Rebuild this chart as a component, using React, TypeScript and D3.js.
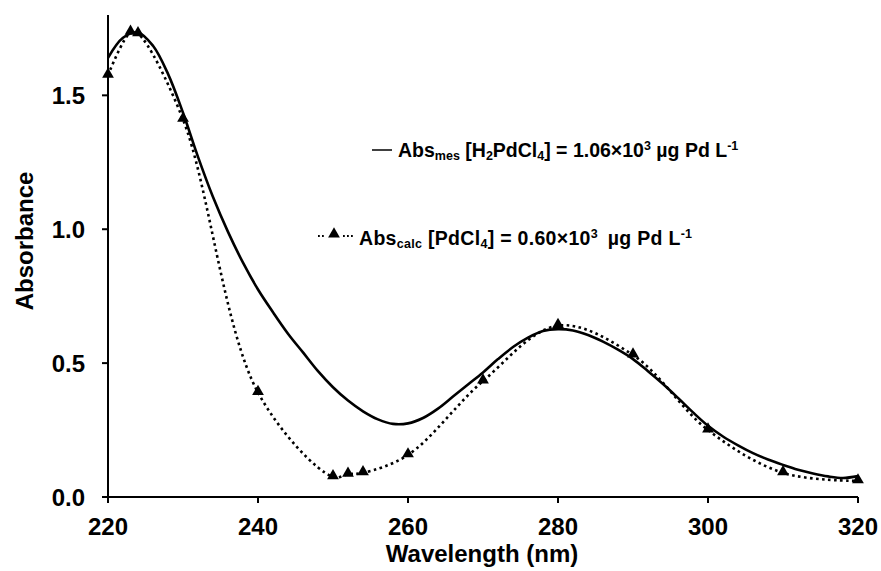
import React from "react";
import * as d3 from "d3";

// measured spectrum (solid line)
const measWl = [220, 222, 224, 226, 228, 230, 232, 234, 236, 238, 240, 242, 244, 246, 248, 250, 252, 254, 256, 258, 260, 262, 264, 266, 268, 270, 272, 274, 276, 278, 280, 282, 284, 286, 288, 290, 292, 294, 296, 298, 300, 302, 304, 306, 308, 310, 312, 314, 316, 318, 320];
const measAbs = [1.64, 1.715, 1.735, 1.685, 1.58, 1.435, 1.27, 1.12, 0.99, 0.875, 0.775, 0.69, 0.61, 0.54, 0.47, 0.41, 0.36, 0.32, 0.29, 0.273, 0.275, 0.295, 0.33, 0.375, 0.42, 0.465, 0.515, 0.56, 0.595, 0.62, 0.627, 0.622, 0.605, 0.58, 0.55, 0.515, 0.47, 0.422, 0.37, 0.316, 0.266, 0.226, 0.193, 0.164, 0.14, 0.12, 0.102, 0.088, 0.077, 0.071, 0.078];

// calculated spectrum (dotted + triangles)
const calcWl = [220, 223, 224, 230, 240, 250, 252, 254, 260, 270, 280, 290, 300, 310, 320];
const calcAbs = [1.575, 1.735, 1.73, 1.41, 0.39, 0.075, 0.085, 0.09, 0.157, 0.433, 0.64, 0.53, 0.25, 0.09, 0.06];

const xTicks = [220, 240, 260, 280, 300, 320];
const yTicks = [0, 0.5, 1.0, 1.5];

const W = 881;
const H = 571;
const FONT = "'Liberation Sans', Arial, sans-serif";

export default function App() {
  const x = d3.scaleLinear().domain([220, 320]).range([108, 858]);
  const y = d3.scaleLinear().domain([0, 1.8]).range([497, 15]);

  const meas = measWl.map((w, i) => [w, measAbs[i]] as [number, number]);
  const calc = calcWl.map((w, i) => [w, calcAbs[i]] as [number, number]);

  const line = d3
    .line<[number, number]>()
    .x((d) => x(d[0]))
    .y((d) => y(d[1]))
    .curve(d3.curveCatmullRom.alpha(0.5));

  const tri = d3.symbol().type(d3.symbolTriangle).size(60)() as string;
  const sub = 12.5;

  return (
    <div style={{ position: "fixed", left: 0, top: 0 }}>
      <svg width={W} height={H} style={{ display: "block", background: "#fff" }} fontFamily={FONT}>
        {/* axes */}
        <line x1={x(220)} x2={x(320)} y1={y(0)} y2={y(0)} stroke="#000" strokeWidth={2} />
        <line x1={x(220)} x2={x(220)} y1={y(0)} y2={y(1.8)} stroke="#000" strokeWidth={2} />
        {xTicks.map((t) => (
          <g key={"x" + t}>
            <line x1={x(t)} x2={x(t)} y1={y(0)} y2={y(0) + 6} stroke="#000" strokeWidth={2} />
            <text x={x(t)} y={535} textAnchor="middle" fontSize={24} fontWeight="bold">
              {t}
            </text>
          </g>
        ))}
        {yTicks.map((t) => (
          <g key={"y" + t}>
            <line x1={x(220) - 6} x2={x(220)} y1={y(t)} y2={y(t)} stroke="#000" strokeWidth={2} />
            <text x={85} y={y(t) + 8.5} textAnchor="end" fontSize={24} fontWeight="bold">
              {d3.format(".1f")(t)}
            </text>
          </g>
        ))}
        <text x={482} y={562} textAnchor="middle" fontSize={24} fontWeight="bold">
          Wavelength (nm)
        </text>
        <text
          transform={`translate(33, 241) rotate(-90)`}
          textAnchor="middle"
          fontSize={24}
          fontWeight="bold"
        >
          Absorbance
        </text>

        {/* series */}
        <path d={line(calc) || ""} fill="none" stroke="#000" strokeWidth={2.6} strokeDasharray="2.6 3.4" />
        <path d={line(meas) || ""} fill="none" stroke="#000" strokeWidth={2.6} />
        {calc.map((d, i) => (
          <path key={i} d={tri} transform={`translate(${x(d[0])},${y(d[1]) - 1})`} fill="#000" />
        ))}

        {/* legend */}
        <line x1={372} x2={392} y1={150} y2={150} stroke="#000" strokeWidth={1.5} />
        <text x={398} y={157} fontSize={19.5} fontWeight="bold">
          Abs
          <tspan fontSize={sub} dy={3}>mes</tspan>
          <tspan dy={-3}> [H</tspan>
          <tspan fontSize={sub} dy={3}>2</tspan>
          <tspan dy={-3}>PdCl</tspan>
          <tspan fontSize={sub} dy={3}>4</tspan>
          <tspan dy={-3}>] = 1.06×10</tspan>
          <tspan fontSize={sub} dy={-7}>3</tspan>
          <tspan dy={7}> µg Pd L</tspan>
          <tspan fontSize={sub} dy={-7}>-1</tspan>
        </text>

        <line x1={318} x2={324} y1={236} y2={236} stroke="#000" strokeWidth={2} strokeDasharray="1.8 2.2" />
        <path d={tri} transform="translate(334,234)" fill="#000" />
        <line x1={343} x2={353} y1={236} y2={236} stroke="#000" strokeWidth={2} strokeDasharray="1.8 2.2" />
        <text x={359} y={245} fontSize={19.5} fontWeight="bold" letterSpacing={0.3}>
          Abs
          <tspan fontSize={sub} dy={3}>calc</tspan>
          <tspan dy={-3}> [PdCl</tspan>
          <tspan fontSize={sub} dy={3}>4</tspan>
          <tspan dy={-3}>] = 0.60×10</tspan>
          <tspan fontSize={sub} dy={-7}>3</tspan>
          <tspan dy={7} dx={4}> µg Pd L</tspan>
          <tspan fontSize={sub} dy={-7}>-1</tspan>
        </text>
      </svg>
    </div>
  );
}
